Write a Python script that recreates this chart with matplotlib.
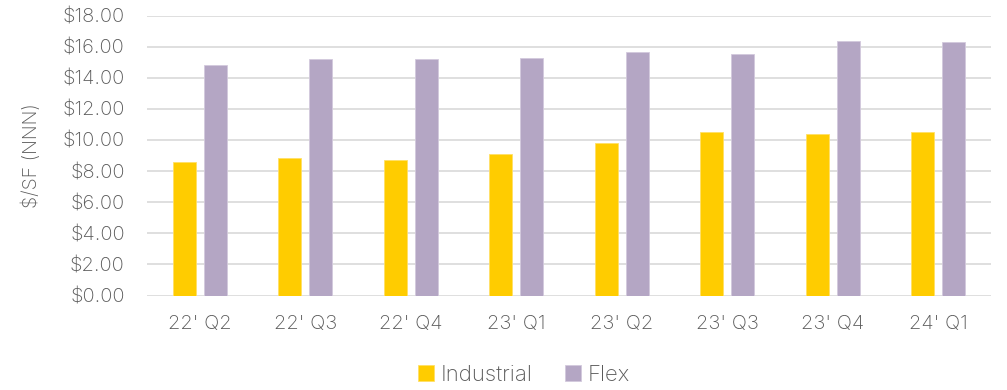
import numpy as np
import matplotlib.pyplot as plt
from matplotlib.ticker import FuncFormatter

quarters = ["22' Q2", "22' Q3", "22' Q4", "23' Q1", "23' Q2", "23' Q3", "23' Q4", "24' Q1"]
industrial = [8.56, 8.84, 8.73, 9.11, 9.78, 10.53, 10.36, 10.49]
flex = [14.81, 15.18, 15.18, 15.24, 15.67, 15.50, 16.36, 16.29]

plt.rcParams['font.family'] = ['Inter', 'DejaVu Sans']
plt.rcParams['font.weight'] = 'light'

fig = plt.figure(figsize=(10.07, 3.90), dpi=100)
ax = fig.add_axes([147 / 1007, 94.5 / 390, 844 / 1007, 280 / 390])

x = np.arange(len(quarters))
width = 0.22
offset = 0.147
ax.bar(x - offset, industrial, width, color='#FFCC00', edgecolor='#FFE066', linewidth=0.6,
       label='Industrial', zorder=3)
ax.bar(x + offset, flex, width, color='#B4A6C4', edgecolor='#D3C9DD', linewidth=0.6,
       label='Flex', zorder=3)

ax.set_xlim(-0.5, len(quarters) - 0.5)
ax.set_ylim(0, 18)
ax.set_yticks(np.arange(0, 18.1, 2))
ax.yaxis.set_major_formatter(FuncFormatter(lambda v, p: f'${v:,.2f}'))
ax.set_xticks(x)
ax.set_xticklabels(quarters)
ax.grid(axis='y', color='#D9D9D9', linewidth=1.2, zorder=0)
for s in ax.spines.values():
    s.set_visible(False)
ax.tick_params(axis='both', length=0, labelsize=14.5, colors='#5A5A5A')
ax.tick_params(axis='x', pad=14)
ax.tick_params(axis='y', pad=16)
ax.set_ylabel('$/SF (NNN)', fontsize=14, color='#5A5A5A', fontweight='light')
ax.yaxis.set_label_coords(-0.126, 0.5)

fig.legend(loc='center', bbox_to_anchor=(524 / 1007, 1 - 375 / 390), ncol=2, frameon=False,
           fontsize=16, labelcolor='#5A5A5A', handlelength=0.7, handleheight=0.7,
           handletextpad=0.3, columnspacing=1.5)

fig.savefig('out.png', dpi=100)
